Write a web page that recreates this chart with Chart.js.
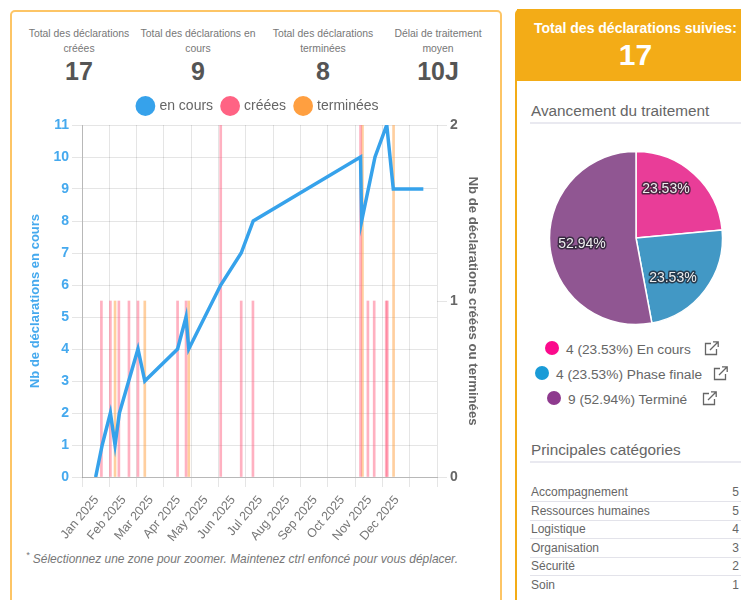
<!DOCTYPE html>
<html lang="fr">
<head>
<meta charset="utf-8">
<title>Déclarations</title>
<script src="https://cdn.jsdelivr.net/npm/chart.js@4/dist/chart.umd.min.js"></script>
<style>
html, body { margin: 0; padding: 0; width: 741px; height: 600px; overflow: hidden; background: #fff; }
body { position: relative; font-family: "Liberation Sans", Arial, sans-serif; color: #666; }
.left { position: absolute; left: 10px; top: 10px; width: 488px; height: 620px; border: 2px solid #fdc566; border-radius: 5px; box-sizing: content-box; }
.kpi { position: absolute; top: 27px; width: 126px; text-align: center; font-size: 10.4px; line-height: 14.5px; color: #777; }
.kpi b { display: block; font-size: 25px; line-height: 28px; color: #555; margin-top: 1px; }
#lineWrap { position: absolute; left: 28px; top: 89px; width: 453px; height: 456px; }
.note { position: absolute; left: 26px; top: 552px; font-size: 11.95px; font-style: italic; color: #777; white-space: nowrap; }
.note sup { font-size: 9px; line-height: 0; }
.right { position: absolute; left: 515px; top: 9px; width: 300px; height: 640px; border-left: 2px solid #f3ac17; border-radius: 5px 0 0 0; }
.head { position: absolute; left: 517px; top: 9px; width: 224px; height: 72px; background: #f3ac17; color: #fff; border-radius: 0; }
.head .t { position: absolute; left: 17px; top: 11px; font-size: 14px; font-weight: bold; white-space: nowrap; }
.head .n { position: absolute; left: 0; width: 237px; top: 26px; text-align: center; font-size: 30px; font-weight: bold; line-height: 40px; }
.sec { position: absolute; left: 531px; font-size: 15.3px; color: #666; white-space: nowrap; }
.rule { position: absolute; left: 530px; width: 211px; height: 2px; background: #e9e9f0; }
#pieWrap { position: absolute; left: 536px; top: 138px; width: 200px; height: 200px; }
.st { position: absolute; font-size: 13.7px; color: #666; white-space: nowrap; line-height: 16px; }
.st i { position: absolute; width: 14px; height: 14px; border-radius: 50%; top: -1px; }
.st svg { position: absolute; top: -2px; }
.row { position: absolute; left: 531px; width: 208px; font-size: 12px; line-height: 14px; color: #666; }
.row span { position: absolute; right: 0; top: 0; }
.sep { position: absolute; left: 530px; width: 211px; height: 1px; background: #e3e3ea; }
</style>
</head>
<body>
<div class="left"></div>
<div id="kpis"></div>
<div id="lineWrap"><canvas id="lineChart"></canvas></div>
<div class="note"><sup>*</sup> Sélectionnez une zone pour zoomer. Maintenez ctrl enfoncé pour vous déplacer.</div>

<div class="right"></div>
<div class="head">
    <div class="t">Total des déclarations suivies:</div>
    <div class="n">17</div>
</div>
<div class="sec" style="top:102px">Avancement du traitement</div>
<div class="rule" style="top:122px"></div>
<div id="pieWrap"><canvas id="pieChart"></canvas></div>
<div id="statusLegend"></div>
<div class="sec" style="top:441px">Principales catégories</div>
<div class="rule" style="top:461px"></div>
<div id="categories"></div>

<script>
const kpiLabels = ['Total des déclarations<br>créées', 'Total des déclarations en<br>cours', 'Total des déclarations<br>terminées', 'Délai de traitement<br>moyen'];
const kpiValues = ['17', '9', '8', '10J'];

const monthLabels = ['Jan 2025', 'Feb 2025', 'Mar 2025', 'Apr 2025', 'May 2025', 'Jun 2025', 'Jul 2025', 'Aug 2025', 'Sep 2025', 'Oct 2025', 'Nov 2025', 'Dec 2025'];

// x values in months from the left edge of the axis
const enCoursX = [0.50, 0.74, 1.04, 1.21, 1.37, 2.05, 2.30, 3.50, 3.81, 3.91, 5.08, 5.83, 6.27, 10.20, 10.24, 10.73, 11.16, 11.40, 12.50];
const enCoursY = [0, 1, 2, 1, 2, 4, 3, 4, 5, 4, 6, 7, 8, 10, 8, 10, 11, 9, 9];
const creeesX = [0.71, 1.04, 1.35, 1.72, 2.05, 3.50, 3.81, 5.08, 5.83, 6.26, 10.20, 10.47, 10.70, 11.14, 11.18];
const creeesY = [1, 1, 1, 1, 1, 1, 1, 2, 1, 1, 2, 1, 1, 1, 1];
const termineesX = [1.21, 2.30, 3.91, 10.27, 11.41];
const termineesY = [1, 1, 1, 2, 2];

const statusLabels = ['En cours', 'Phase finale', 'Terminé'];
const statusCounts = [4, 4, 9];
const statusPercents = ['23.53%', '23.53%', '52.94%'];

const categoryNames = ['Accompagnement', 'Ressources humaines', 'Logistique', 'Organisation', 'Sécurité', 'Soin'];
const categoryCounts = [5, 5, 4, 3, 2, 1];

const blue = 'rgb(54, 162, 235)';
const red = 'rgb(255, 99, 132)';
const orange = 'rgb(255, 159, 64)';
const grey = '#666';
const fontFamily = '"Liberation Sans", Arial, sans-serif';

function zip(xs, ys) {
    return xs.map((x, i) => ({ x: x, y: ys[i] }));
}

function renderKpis() {
    const centers = [79, 198, 323, 438];
    document.getElementById('kpis').innerHTML = kpiLabels.map((label, i) =>
        `<div class="kpi" style="left:${centers[i] - 63}px">${label}<b>${kpiValues[i]}</b></div>`
    ).join('');
}

// a little more room under the legend, and the legend sits slightly right of centre
const legendGap = {
    id: 'legendGap',
    beforeInit(chart) {
        const fit = chart.legend.fit;
        chart.legend.fit = function () {
            fit.call(this);
            this.height += 2;
        };
    },
    afterLayout(chart) {
        chart.legend.left += 4;
        chart.legend.right += 4;
    }
};

function renderLineChart() {
    new Chart(document.getElementById('lineChart'), {
        data: {
            datasets: [
                {
                    type: 'line',
                    label: 'en cours',
                    data: zip(enCoursX, enCoursY),
                    yAxisID: 'y',
                    borderColor: blue,
                    backgroundColor: blue,
                    borderWidth: 3.5,
                    borderJoinStyle: 'miter',
                    pointRadius: 0,
                    tension: 0,
                    fill: false
                },
                {
                    type: 'bar',
                    label: 'créées',
                    data: zip(creeesX, creeesY),
                    yAxisID: 'y1',
                    backgroundColor: 'rgba(255, 99, 132, 0.5)',
                    barThickness: 2,
                    grouped: false
                },
                {
                    type: 'bar',
                    label: 'terminées',
                    data: zip(termineesX, termineesY),
                    yAxisID: 'y1',
                    backgroundColor: 'rgba(255, 159, 64, 0.5)',
                    barThickness: 2,
                    grouped: false
                }
            ]
        },
        options: {
            responsive: true,
            maintainAspectRatio: false,
            animation: false,
            layout: { padding: 0 },
            datasets: { bar: { grouped: false } },
            plugins: {
                tooltip: { enabled: false },
                legend: {
                    position: 'top',
                    labels: {
                        usePointStyle: true,
                        pointStyle: 'circle',
                        color: grey,
                        padding: 10,
                        font: { size: 14, family: fontFamily },
                        generateLabels: () => [
                            ['en cours', blue], ['créées', red], ['terminées', orange]
                        ].map(([text, color], i) => ({
                            text: text,
                            fillStyle: color,
                            strokeStyle: color,
                            lineWidth: 0,
                            pointStyle: 'circle',
                            datasetIndex: i,
                            fontColor: grey
                        }))
                    }
                }
            },
            scales: {
                x: {
                    type: 'linear',
                    min: 0,
                    max: 13,
                    offset: false,
                    grid: { offset: false, color: 'rgba(0, 0, 0, 0.1)', tickLength: 10 },
                    border: { color: 'rgba(0, 0, 0, 0.2)' },
                    afterBuildTicks: axis => {
                        axis.ticks = Array.from({ length: 14 }, (_, i) => ({ value: i }));
                    },
                    ticks: {
                        autoSkip: false,
                        maxRotation: 50,
                        minRotation: 50,
                        labelOffset: 14.5,
                        padding: 6,
                        color: '#777',
                        font: { size: 12.5, family: fontFamily },
                        callback: value => monthLabels[value] || ''
                    },
                    afterFit: axis => { axis.height = 68; }
                },
                y: {
                    position: 'left',
                    min: 0,
                    max: 11,
                    grid: { color: 'rgba(0, 0, 0, 0.1)', tickLength: 10 },
                    border: { color: 'rgba(0, 0, 0, 0.2)' },
                    ticks: {
                        stepSize: 1,
                        color: '#45a9ee',
                        padding: 3,
                        font: { size: 14, weight: 'bold', family: fontFamily }
                    },
                    title: {
                        display: true,
                        text: 'Nb de déclarations en cours',
                        color: '#45a9ee',
                        padding: 0,
                        font: { size: 13, weight: 'bold', family: fontFamily }
                    },
                    afterFit: axis => { axis.width = 54; }
                },
                y1: {
                    position: 'right',
                    min: 0,
                    max: 2,
                    grid: { drawOnChartArea: false, color: 'rgba(0, 0, 0, 0.1)', tickLength: 10 },
                    border: { display: false },
                    ticks: {
                        stepSize: 1,
                        color: grey,
                        padding: 3,
                        font: { size: 14, weight: 'bold', family: fontFamily }
                    },
                    title: {
                        display: true,
                        text: 'Nb de déclarations créées ou terminées',
                        color: grey,
                        padding: 0,
                        font: { size: 13.2, weight: 'bold', family: fontFamily }
                    },
                    afterFit: axis => { axis.width = 44; }
                }
            }
        },
        plugins: [legendGap]
    });
}

// percentages on the slices, with the dark halo of the original
const pieLabels = {
    id: 'pieLabels',
    afterDatasetsDraw(chart) {
        const nudges = [[-8, -7], [-8, 6], [2, 1]];
        const ctx = chart.ctx;
        chart.getDatasetMeta(0).data.forEach((arc, i) => {
            const mid = (arc.startAngle + arc.endAngle) / 2;
            const r = arc.outerRadius * 0.65;
            const x = arc.x + Math.cos(mid) * r + nudges[i][0];
            const y = arc.y + Math.sin(mid) * r + nudges[i][1];
            ctx.save();
            ctx.font = '14px ' + fontFamily;
            ctx.textAlign = 'center';
            ctx.textBaseline = 'middle';
            ctx.lineJoin = 'round';
            ctx.lineWidth = 3;
            ctx.strokeStyle = 'rgba(30, 30, 40, 0.75)';
            ctx.strokeText(statusPercents[i], x, y);
            ctx.fillStyle = '#eee';
            ctx.fillText(statusPercents[i], x, y);
            ctx.restore();
        });
    }
};

function renderPieChart() {
    new Chart(document.getElementById('pieChart'), {
        type: 'pie',
        data: {
            labels: statusLabels,
            datasets: [{
                data: statusCounts,
                backgroundColor: ['#e93d98', '#4298c5', '#905692'],
                borderColor: '#fff',
                borderWidth: 1.5,
                radius: 86.5
            }]
        },
        options: {
            responsive: true,
            maintainAspectRatio: false,
            animation: false,
            plugins: { legend: { display: false }, tooltip: { enabled: false } }
        },
        plugins: [pieLabels]
    });
}

function renderStatusLegend() {
    const dots = ['#fb0a8c', '#1a9bd7', '#8e3a8e'];
    const lefts = [566, 556, 568];
    const tops = [342, 367, 392];
    const iconX = [137, 156, 133];
    const icon = x => `<svg style="left:${x}px" width="17" height="17" viewBox="0 0 17 17" fill="none" stroke="#666" stroke-width="1.3"><path d="M8 3.5H2.5v11h11V9"/><path d="M7 10 15 2M10 1.8h5.2V7"/></svg>`;
    document.getElementById('statusLegend').innerHTML = statusLabels.map((label, i) =>
        `<div class="st" style="left:${lefts[i]}px;top:${tops[i]}px"><i style="left:-21px;background:${dots[i]}"></i>${statusCounts[i]} (${statusPercents[i]}) ${label}${icon(iconX[i])}</div>`
    ).join('');
}

function renderCategories() {
    const tops = [485, 503.5, 522, 540.5, 559, 578];
    document.getElementById('categories').innerHTML = categoryNames.map((name, i) =>
        `<div class="row" style="top:${tops[i]}px">${name}<span>${categoryCounts[i]}</span></div>` +
        (i < categoryNames.length - 1 ? `<div class="sep" style="top:${tops[i] + 16}px"></div>` : '')
    ).join('');
}

renderKpis();
renderLineChart();
renderPieChart();
renderStatusLegend();
renderCategories();
</script>
</body>
</html>
